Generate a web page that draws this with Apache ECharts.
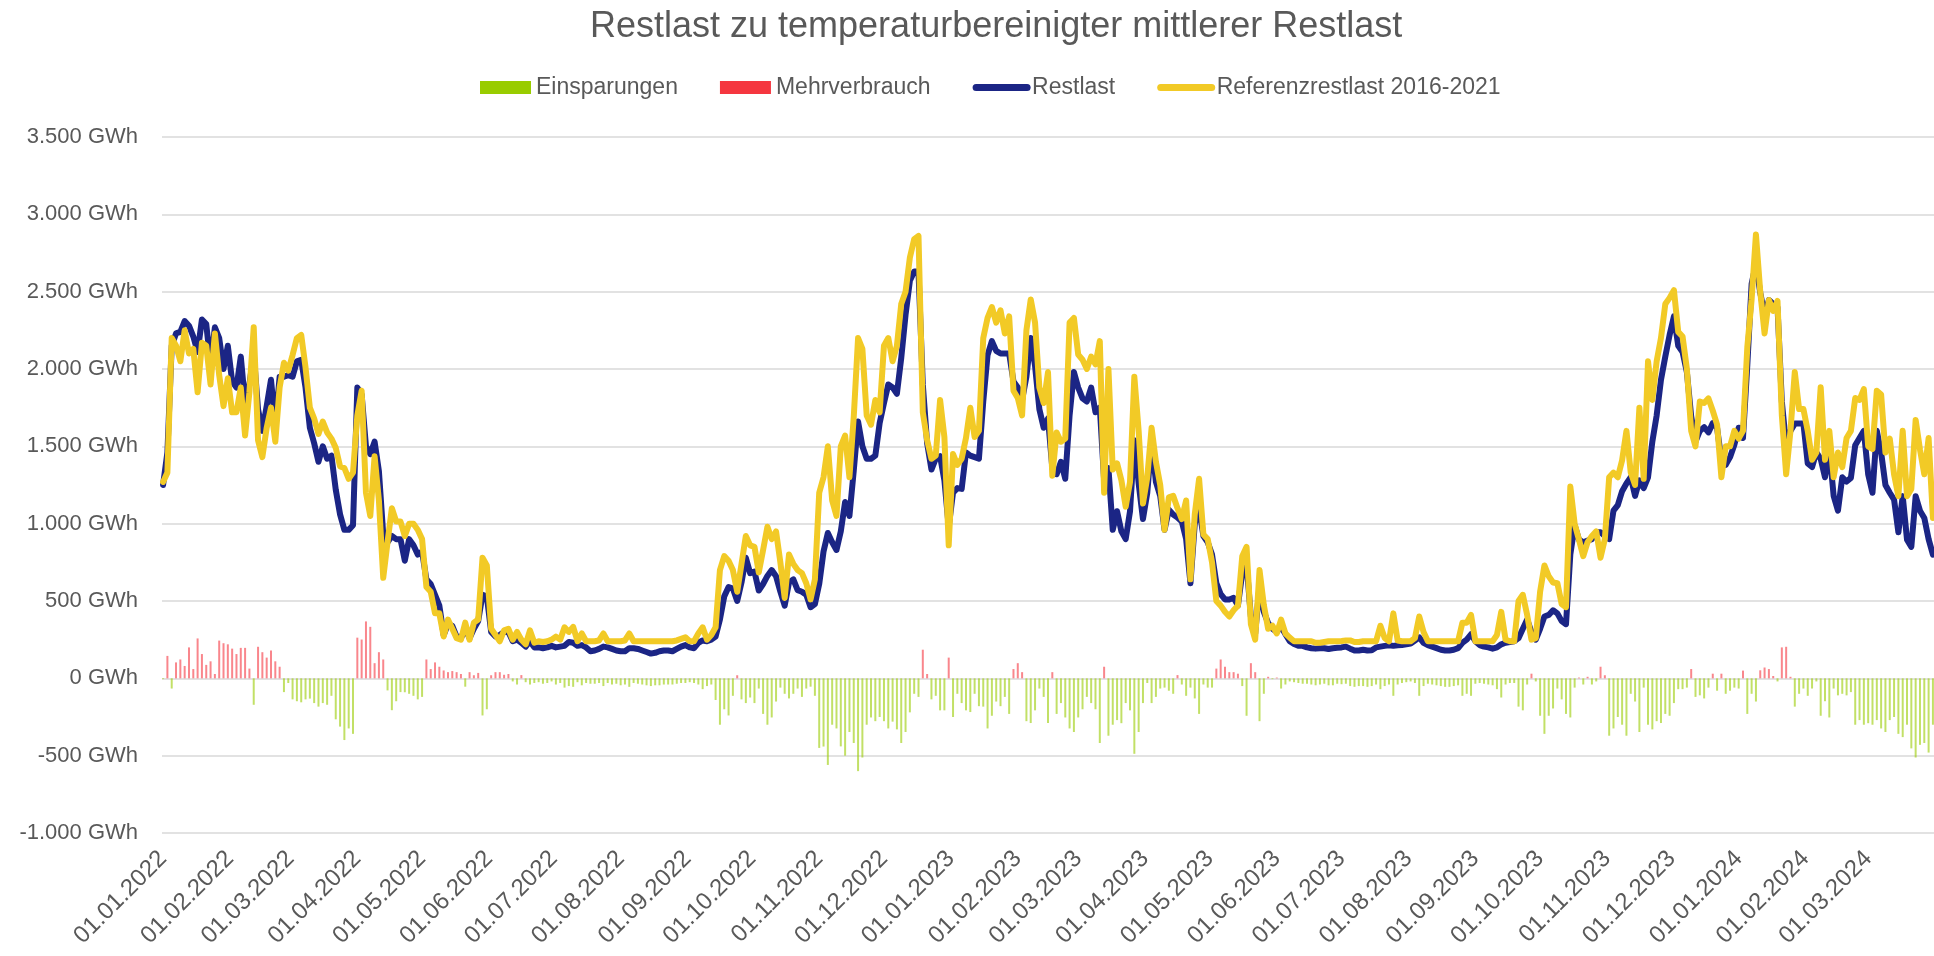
<!DOCTYPE html>
<html>
<head>
<meta charset="utf-8">
<script src="https://cdn.jsdelivr.net/npm/echarts@6/dist/echarts.min.js"></script>
<style>
  html, body { margin: 0; padding: 0; background: #fff; }
  #chart { width: 1934px; height: 956px; }
</style>
</head>
<body>
<div id="chart"></div>
<script>
const startDatum = new Date(Date.UTC(2022, 0, 1));
const endDatum = new Date(Date.UTC(2024, 2, 31));
const schrittTage = 2;

const restlast = [
  1250,1460,2150,2230,2240,2310,2280,2210,2110,2320,2290,2030,2270,2200,2000,2150,1920,1880,2080,1780,
  1900,2100,1740,1600,1760,1930,1640,1950,1950,1960,1950,2050,2060,1880,1620,1520,1400,1500,1420,1440,
  1220,1060,960,960,990,1880,
  1835,1500,1450,1530,1340,930,880,920,900,900,760,900,860,800,820,640,610,540,470,280,
  350,340,270,260,320,260,320,370,540,530,300,270,280,300,300,240,250,230,205,240,
  200,200,195,200,210,200,
  205,210,235,230,210,215,200,175,180,190,205,200,190,180,175,175,195,195,190,180,
  170,160,165,175,180,180,175,190,205,215,200,195,230,245,240,250,270,380,530,590,
  580,500,620,780,680,
  690,568,610,662,700,660,560,470,620,640,570,560,540,460,480,610,820,940,880,830,
  950,1140,1050,1342,1660,1500,1420,1420,1440,1650,1780,1900,1880,1840,2070,2350,2570,2630,2630,1900,
  1520,1350,1420,1436,1280,980,1200,1230,
  1225,1460,1440,1430,1420,1790,2090,2180,2117,2100,2100,2100,1920,1880,1800,1950,2200,2020,1740,1620,
  1680,1360,1320,1400,1290,1700,1980,1880,1810,1790,1880,1720,1750,1280,1360,960,1080,950,900,1080,
  1540,1260,1030,1200,1540,
  1270,1178,960,1090,1059,1040,1014,900,615,1000,1100,920,880,800,615,545,510,510,520,470,
  680,740,400,290,600,430,357,320,300,333,286,240,222,210,210,200,195,192,195,195,
  190,195,198,200,205,
  192,180,180,185,180,182,200,205,210,214,210,214,216,220,225,245,265,230,215,205,
  195,185,180,180,185,195,230,250,285,240,215,205,200,192,200,220,230,235,240,260,
  320,380,300,250,320,400,410,440,
  420,370,350,800,990,897,880,890,900,944,944,920,900,1084,1120,1210,1260,1300,1180,1280,
  1230,1300,1530,1700,1930,2080,2220,2340,2150,2110,1980,1694,1530,1600,1624,1590,1650,1620,1410,1380,
  1430,1510,
  1620,1554,2023,2550,2680,2493,2352,2446,2420,2399,1790,1507,1600,1647,1647,1647,1389,1366,1460,1420,
  1300,1480,1180,1084,1300,1272,1296,1507,1554,1600,1319,1200,1600,1460,1250,1200,1155,944,1178,897,
  850,1178,1084,1037,900,800
];

const referenz = [
  1270,1330,2200,2150,2050,2250,2100,2130,1850,2170,2150,1900,2230,1960,1760,1940,1720,1720,1880,1570,
  1850,2270,1540,1430,1620,1750,1530,1880,2040,1990,2090,2200,2220,2010,1750,1680,1580,1660,1590,1550,
  1490,1370,1360,1290,1330,1700,
  1860,1200,1050,1436,1150,650,880,1100,1014,1014,920,1000,1000,960,900,590,560,420,420,270,
  380,320,260,250,360,250,360,380,780,730,320,280,240,310,320,250,300,250,220,310,
  230,240,235,240,250,270,
  250,330,300,333,240,290,240,240,240,245,290,240,240,240,240,245,290,240,240,240,
  240,240,240,240,240,240,240,245,255,265,240,240,290,330,250,280,330,700,790,760,
  700,560,740,920,860,
  850,685,830,980,900,950,750,520,800,740,700,680,615,510,640,1200,1300,1500,1150,1050,
  1500,1570,1300,1690,2200,2130,1700,1640,1800,1720,2150,2200,2050,2150,2420,2500,2720,2840,2860,1720,
  1540,1420,1440,1800,1560,860,1450,1380,
  1420,1554,1750,1560,1600,2200,2330,2400,2300,2380,2230,2340,1860,1812,1700,2250,2450,2300,1880,1780,
  1980,1310,1590,1530,1550,2300,2330,2093,2060,2000,2080,2030,2180,1200,2000,1350,1390,1280,1110,1270,
  1950,1600,1130,1300,1620,
  1400,1249,960,1170,1180,1100,1030,1150,640,1060,1290,930,900,750,500,470,430,400,440,470,
  790,850,350,250,700,474,320,340,290,380,290,263,240,240,240,240,240,230,230,235,
  240,240,240,242,245,
  245,235,235,240,240,240,240,340,260,240,420,245,240,240,240,260,400,300,240,240,
  240,240,240,240,240,240,360,360,410,240,240,240,240,240,280,430,250,240,240,500,
  540,410,250,260,560,730,660,620,
  615,480,460,1240,1000,897,790,880,920,950,780,900,1300,1330,1300,1410,1600,1330,1250,1750,
  1290,2050,1800,2050,2200,2420,2460,2510,2240,2210,2000,1600,1500,1790,1780,1810,1730,1640,1300,1500,
  1500,1600,
  1550,1600,2140,2450,2870,2500,2230,2446,2375,2440,1700,1320,1600,1980,1741,1741,1600,1413,1460,1882,
  1413,1600,1300,1460,1366,1554,1600,1812,1800,1870,1500,1483,1859,1835,1460,1550,1319,1178,1600,1178,
  1225,1671,1480,1319,1554,1037
];

// Abweichung Restlast zur temperaturbereinigten Referenz (negativ = Einsparung)
const abweichung = [
  -5,145,-66,103,122,80,200,60,258,157,87,110,28,244,227,220,192,157,197,197,
  63,-171,204,169,134,180,110,75,-89,-30,-136,-148,-155,-136,-131,-160,-183,-160,-171,-113,
  -265,-312,-399,-324,-359,263,
  251,368,333,98,169,122,-78,-206,-148,-89,-90,-100,-113,-136,-120,122,60,103,75,51,
  40,47,40,28,-54,40,20,35,-240,-200,20,40,40,23,28,-20,-40,21,-25,-40,
  -30,-25,-35,-30,-20,-40,
  -30,-60,-50,-55,-25,-45,-30,-35,-35,-30,-50,-30,-40,-35,-45,-40,-55,-30,-35,-40,
  -45,-50,-45,-45,-40,-40,-40,-35,-30,-30,-25,-30,-40,-70,-50,-40,-140,-300,-200,-240,
  -113,20,-136,-160,-124,
  -160,-66,-230,-300,-253,-150,-60,-100,-130,-100,-66,-120,-66,-54,-113,-450,-441,-560,-300,-324,
  -440,-500,-347,-418,-600,-512,-300,-253,-277,-250,-277,-324,-280,-330,-418,-347,-220,-100,-120,185,
  28,-136,-113,-207,-207,134,-250,-100,
  -160,-207,-218,-100,-180,-183,-324,-242,-150,-180,-120,-230,60,98,40,-277,-289,-207,-66,-120,
  -289,40,-230,-160,-253,-324,-347,-253,-200,-120,-160,-200,-418,75,-371,-300,-270,-290,-160,-207,
  -488,-347,-160,-30,-160,
  -120,-66,-60,-80,-100,21,-40,-113,-60,-130,-230,-40,-60,-60,63,122,75,40,40,30,
  -50,-242,98,40,-277,-100,10,-5,5,-66,-40,-20,-25,-30,-35,-35,-40,-45,-40,-35,
  -45,-45,-35,-38,-35,
  -50,-55,-50,-50,-55,-50,-40,-70,-50,-40,-113,-40,-30,-25,-20,-30,-113,-50,-35,-40,
  -45,-50,-55,-55,-50,-45,-113,-100,-113,-35,-30,-35,-40,-45,-70,-124,-40,-30,-30,-183,
  -207,-40,30,-20,-242,-359,-242,-195,
  -66,-136,-230,-253,-60,5,-40,10,-40,-20,75,20,-371,-324,-250,-300,-371,-100,-150,-347,
  -60,-300,-330,-277,-289,-230,-242,-160,-70,-70,-60,60,-120,-110,-130,-60,30,-80,30,-100,
  -80,-60,
  -66,50,-230,-100,-150,52,70,60,15,-20,200,204,10,-183,-100,-66,-113,-66,-20,-242,
  -148,-253,-66,-110,-100,-110,-89,-300,-270,-300,-290,-300,-270,-324,-347,-270,-250,-359,-380,-300,
  -453,-512,-430,-418,-480,-300
];

const yMin = -1000, yMax = 3500, yStep = 500;

const grau = '#595959';
const schrift = "'Liberation Sans', Arial, sans-serif";

function pad(n) { return n < 10 ? '0' + n : '' + n; }

// eine Kategorie pro Tag
const tage = [];
for (let d = new Date(startDatum); d <= endDatum; d.setUTCDate(d.getUTCDate() + 1)) {
  tage.push(pad(d.getUTCDate()) + '.' + pad(d.getUTCMonth() + 1) + '.' + d.getUTCFullYear());
}

function aufTage(werte, filter) {
  const out = new Array(tage.length).fill(null);
  werte.forEach(function (v, i) {
    if (!filter || filter(v)) out[i * schrittTage] = v;
  });
  return out;
}

function gwh(v) {
  return String(v).replace(/\B(?=(\d{3})+(?!\d))/g, '.') + ' GWh';
}

const chart = echarts.init(document.getElementById('chart'));

chart.setOption({
  animation: false,
  textStyle: { fontFamily: schrift },
  title: {
    text: 'Restlast zu temperaturbereinigter mittlerer Restlast',
    left: 585,
    top: 4,
    textStyle: { fontSize: 36, fontWeight: 'normal', color: grau, fontFamily: schrift }
  },
  legend: {
    left: 475,
    top: 71,
    itemWidth: 51,
    itemHeight: 13,
    itemGap: 42,
    itemStyle: { opacity: 1 },
    textStyle: { fontSize: 23, color: grau, fontFamily: schrift },
    data: [
      { name: 'Einsparungen', icon: 'rect' },
      { name: 'Mehrverbrauch', icon: 'rect' },
      // Linien ohne Punkt in der Legende
      { name: 'Restlast', itemStyle: { opacity: 0 }, lineStyle: { width: 7, cap: 'round' } },
      { name: 'Referenzrestlast 2016-2021', itemStyle: { opacity: 0 }, lineStyle: { width: 7, cap: 'round' } }
    ]
  },
  grid: { left: 162, right: 0, top: 137, bottom: 123 },
  xAxis: {
    type: 'category',
    data: tage,
    boundaryGap: true,
    axisLine: { show: false },
    axisTick: { show: false },
    axisLabel: {
      interval: function (i, v) { return v.indexOf('01.') === 0; },
      rotate: 45,
      margin: 22,
      fontSize: 24,
      color: grau,
      fontFamily: schrift
    }
  },
  yAxis: {
    type: 'value',
    min: yMin,
    max: yMax,
    interval: yStep,
    axisLine: { show: false },
    axisTick: { show: false },
    splitLine: { lineStyle: { color: '#d9d9d9', width: 1.5 } },
    axisLabel: { formatter: gwh, fontSize: 22, color: grau, margin: 24, fontFamily: schrift }
  },
  series: [
    {
      name: 'Einsparungen',
      type: 'bar',
      data: aufTage(abweichung, function (v) { return v < 0; }),
      barWidth: 2,
      barGap: '-100%',
      itemStyle: { color: '#99cc00', opacity: 0.6 }
    },
    {
      name: 'Mehrverbrauch',
      type: 'bar',
      data: aufTage(abweichung, function (v) { return v > 0; }),
      barWidth: 2,
      barGap: '-100%',
      itemStyle: { color: '#f5363f', opacity: 0.6 }
    },
    {
      name: 'Restlast',
      type: 'line',
      data: aufTage(restlast),
      connectNulls: true,
      symbol: 'none',
      lineStyle: { width: 6, color: '#1b2585', join: 'round', cap: 'round' },
      itemStyle: { color: '#1b2585' }
    },
    {
      name: 'Referenzrestlast 2016-2021',
      type: 'line',
      data: aufTage(referenz),
      connectNulls: true,
      symbol: 'none',
      lineStyle: { width: 6, color: '#f2ca26', join: 'round', cap: 'round' },
      itemStyle: { color: '#f2ca26' }
    }
  ]
});
</script>
</body>
</html>
